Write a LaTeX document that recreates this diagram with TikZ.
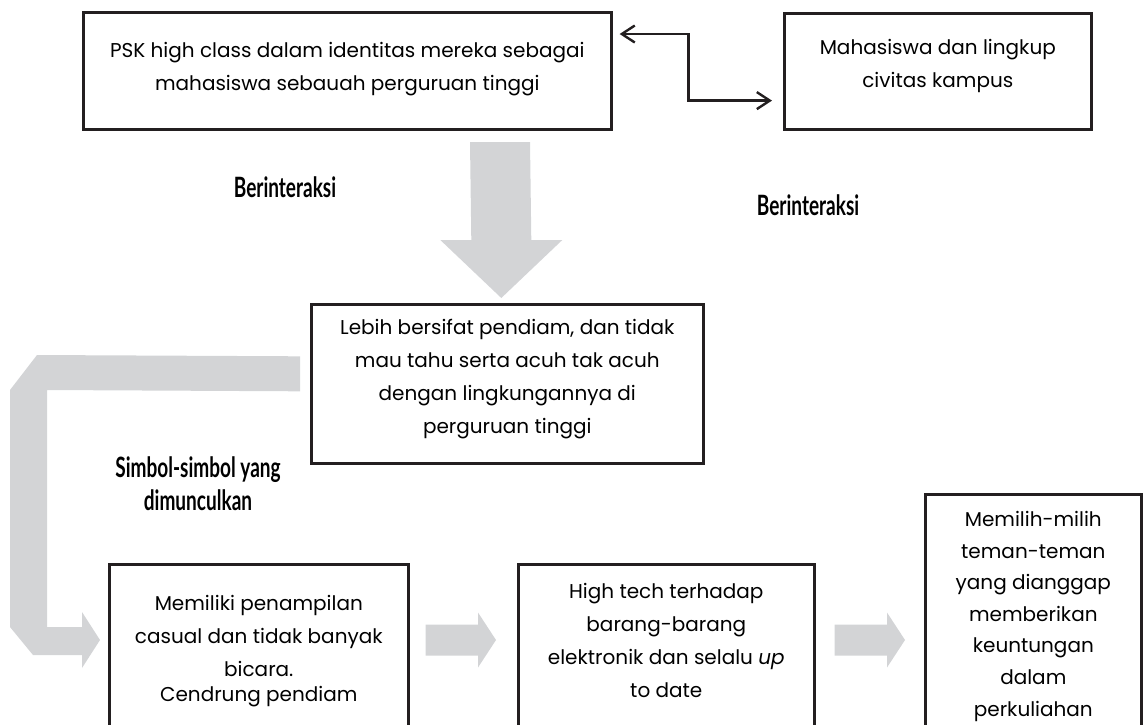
\documentclass[tikz,border=0pt]{standalone}
\usepackage{fontspec}
\setmainfont{Poppins}
\newfontfamily\labelfont[FakeStretch=0.68]{Lato}
\usetikzlibrary{calc,arrows.meta,positioning}
\definecolor{boxLine}{RGB}{35,31,32}
\definecolor{flowGray}{RGB}{211,212,214}
\newcommand{\bodytext}{\fontsize{10}{16.5}\selectfont}
\newcommand{\labeltext}{\labelfont\bfseries\fontsize{14}{16.5}\selectfont}
% grey block arrow pointing right, from #1 to the tip #2
\newcommand{\rightblock}[2]{%
  \fill[flowarrow] ($(#1)+(0,-15.5)$) -- ($(#2)+(-18,-15.5)$) -- ($(#2)+(-18,-27.5)$) -- (#2)
    -- ($(#2)+(-18,27.5)$) -- ($(#2)+(-18,15.5)$) -- ($(#1)+(0,15.5)$) -- cycle;}
\tikzset{
  infobox/.style={draw=boxLine,line width=1.3pt,align=center,inner xsep=0pt,font=\bodytext},
  sidelabel/.style={align=center,font=\labeltext,inner sep=0pt},
  linkarrow/.style={draw=boxLine,line width=1.2pt,{Straight Barb[length=6.5pt,width=8.5pt]}-{Straight Barb[length=6.5pt,width=8.5pt]}},
  flowarrow/.style={fill=flowGray,draw=none}
}

\begin{document}
\begin{tikzpicture}[x=0.5pt,y=-0.5pt]
\useasboundingbox (0,0) rectangle (1144,724);

% boxes
\node[infobox,anchor=north west,minimum width=264pt,minimum height=58.5pt] (boxA) at (82,11)
  {PSK high class dalam identitas mereka sebagai\\mahasiswa sebauah perguruan tinggi\\[-12pt]\mbox{}};
\node[infobox,anchor=north west,minimum width=153.5pt,minimum height=58pt] (boxB) at (783,12)
  {Mahasiswa dan lingkup\\civitas kampus\\[-9pt]\mbox{}};
\node[infobox,anchor=north west,minimum width=196pt,minimum height=79.5pt] (boxC) at (310,303)
  {Lebih bersifat pendiam, dan tidak\\mau tahu serta acuh tak acuh\\dengan lingkungannya di\\perguruan tinggi\\[-9pt]\mbox{}};
\node[infobox,anchor=north west,minimum width=149.5pt,inner ysep=15.25pt] (boxD) at (108,563)
  {Memiliki penampilan\\casual dan tidak banyak\\bicara.\\[-4pt]Cendrung pendiam\\[20pt]\mbox{}};
\node[infobox,anchor=north west,minimum width=148pt,inner ysep=9.25pt] (boxE) at (517,563)
  {High tech terhadap\\barang-barang\\elektronik dan selalu \emph{up}\\to date\\[20pt]\mbox{}};
\node[infobox,anchor=north west,minimum width=108pt,inner ysep=8.5pt,font=\fontsize{10}{15.8}\selectfont] (boxF) at (924,493)
  {Memilih-milih\\teman-teman\\yang dianggap\\memberikan\\keuntungan\\dalam\\perkuliahan\\[20pt]\mbox{}};

% labels
\node[sidelabel] (lblInterA) at (285,187) {Berinteraksi};
\node[sidelabel] (lblInterB) at (808,205) {Berinteraksi};
\node[sidelabel] (lblSimbol) at (198,484) {Simbol-simbol yang\\dimunculkan};

% two-way link
\coordinate (linkL) at ($(boxA.north east)+(7,23)$);
\coordinate (linkR) at ($(boxB.south west)+(-11,-30)$);
\draw[linkarrow] (linkL) -- ++(69,0) |- (linkR);

% grey arrows
\coordinate (downTop) at (500,142);
\coordinate (downTip) at ($(boxC.north)+(-6,-5)$);
\fill[flowarrow] ($(downTop)+(-30,0)$) -- ($(downTip)+(-30,-58)$) -- ($(downTip)+(-61,-58)$) -- (downTip)
  -- ($(downTip)+(61,-58)$) -- ($(downTip)+(30,-58)$) -- ($(downTop)+(30,0)$) -- cycle;

\coordinate (bendStart) at ($(boxC.west)+(-10,-10)$);
\coordinate (bendTip) at ($(boxD.north west)+(-8,77)$);
\fill[flowarrow] ($(bendStart)+(0,-17.5)$) -- (37,355) -- (10,390) -- (10,627) -- (33,655)
  -- ($(bendTip)+(-18,15)$) -- ($(bendTip)+(-18,28)$) -- (bendTip) -- ($(bendTip)+(-18,-28)$)
  -- ($(bendTip)+(-18,-13)$) -- (47,627) -- (47,390) -- ($(bendStart)+(0,17.5)$) -- cycle;

\coordinate (deStart) at ($(boxD.north east)+(16,77)$);
\coordinate (deTip) at ($(boxE.north west)+(-21,77)$);
\rightblock{deStart}{deTip}
\coordinate (efStart) at ($(boxE.north east)+(19,77)$);
\coordinate (efTip) at ($(boxF.north west)+(-19,147)$);
\rightblock{efStart}{efTip}
\end{tikzpicture}
\end{document}
